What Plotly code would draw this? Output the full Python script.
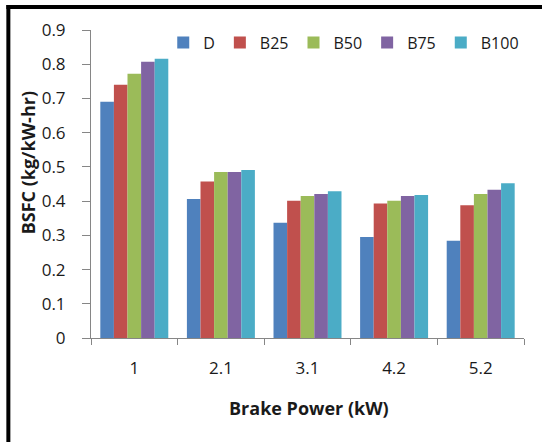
import plotly.graph_objects as go

categories = ["1", "2.1", "3.1", "4.2", "5.2"]
series_names = ["D", "B25", "B50", "B75", "B100"]
D = [0.690, 0.406, 0.337, 0.295, 0.284]
B25 = [0.740, 0.457, 0.401, 0.393, 0.388]
B50 = [0.772, 0.485, 0.415, 0.401, 0.421]
B75 = [0.807, 0.485, 0.421, 0.415, 0.433]
B100 = [0.816, 0.491, 0.429, 0.418, 0.452]
colors = ["#4F81BD", "#C0504D", "#9BBB59", "#8064A2", "#4BACC6"]
y_ticks = [0, 0.1, 0.2, 0.3, 0.4, 0.5, 0.6, 0.7, 0.8, 0.9]

font_family = "'Open Sans', 'Noto Sans', sans-serif"
txt_col = "#1a1a1a"

fig = go.Figure()
for name, vals, col in zip(series_names, [D, B25, B50, B75, B100], colors):
    fig.add_trace(go.Bar(x=categories, y=vals, name=name, marker=dict(color=col, line=dict(width=0))))

W, H = 542, 442
ml, mr, mt, mb = 90.7, 18, 30, 104
pw = W - ml - mr
ph = H - mt - mb

def px_x(px):
    return (px - ml) / pw

def px_y(py):
    return (H - mb - py) / ph

fig.update_layout(
    width=W, height=H,
    margin=dict(l=ml, r=mr, t=mt, b=mb, pad=0),
    paper_bgcolor="white", plot_bgcolor="white",
    barmode="group", bargap=0.215, bargroupgap=0,
    font=dict(family=font_family, size=17, color=txt_col),
    showlegend=True,
    legend=dict(orientation="h", x=px_x(163), xanchor="left", y=px_y(42.5), yanchor="middle",
                font=dict(size=16, color=txt_col), bgcolor="rgba(0,0,0,0)",
                itemwidth=30, tracegroupgap=0),
    xaxis=dict(type="category", showline=True, linecolor="#868686", linewidth=1,
               ticks="outside", tickson="boundaries", ticklen=6, tickcolor="#868686",
               showgrid=False, zeroline=False, ticklabelstandoff=15,
               tickfont=dict(size=17, color=txt_col)),
    yaxis=dict(range=[0, 0.9], tickvals=y_ticks, ticktext=[f"{v:g}" for v in y_ticks],
               showline=True, linecolor="#868686", linewidth=1,
               ticks="outside", ticklen=8, tickcolor="#868686",
               showgrid=False, zeroline=False, ticklabelstandoff=13,
               tickfont=dict(size=17, color=txt_col)),
    annotations=[
        dict(text="<b>Brake Power (kW)</b>", xref="paper", yref="paper",
             x=px_x(309), y=px_y(408), xanchor="center", yanchor="middle",
             showarrow=False, font=dict(size=18, color=txt_col)),
        dict(text="<b>BSFC (kg/kW-hr)</b>", xref="paper", yref="paper",
             x=px_x(28), y=px_y(163), xanchor="center", yanchor="middle",
             textangle=-90, showarrow=False, font=dict(size=18, color=txt_col)),
    ],
    shapes=[
        dict(type="line", xref="paper", yref="paper",
             x0=px_x(6), x1=px_x(620), y0=px_y(7), y1=px_y(7),
             line=dict(color="black", width=4), layer="above"),
        dict(type="line", xref="paper", yref="paper",
             x0=px_x(8), x1=px_x(8), y0=px_y(5), y1=px_y(520),
             line=dict(color="black", width=4), layer="above"),
    ],
)

fig.write_html(
    "out.html",
    config={"displayModeBar": False},
    post_script="document.body.style.margin='0';document.body.style.padding='0';"
                "document.body.style.overflow='hidden';document.documentElement.style.overflow='hidden';",
)
